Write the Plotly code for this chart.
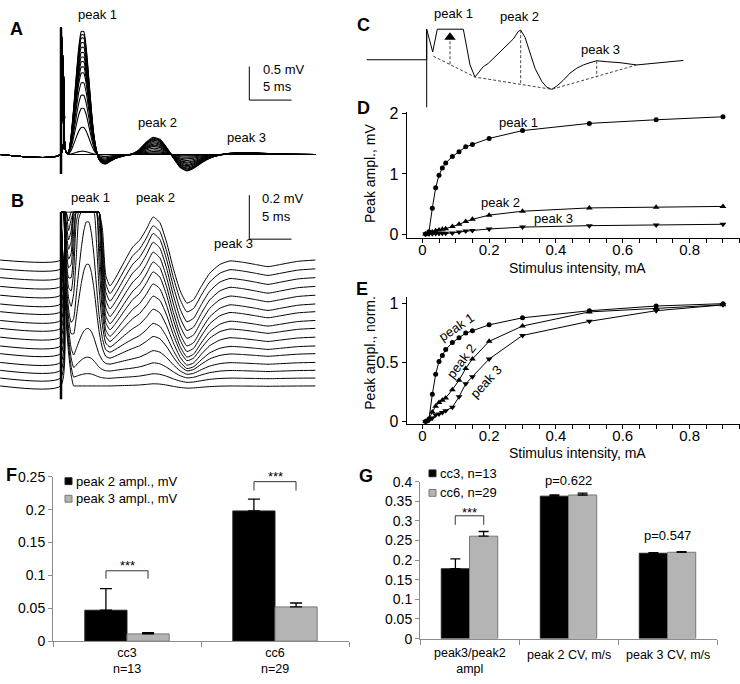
import numpy as np
import plotly.graph_objects as go

W, H = 740, 684
FONT = 'Liberation Sans, Arial, sans-serif'
BAR_GREY = '#b4b4b4'
AXIS_GREY = '#8c8c8c'

# ---------- A / B: sweep waveforms ----------
# sample times, ms after the stimulus
T_MS = [-7.2, -0.05, 0.0, 0.15, 0.3, 0.45, 0.6, 0.9, 1.2, 1.5, 1.8, 2.1, 2.4, 2.7, 3.0,
        3.3, 3.6, 3.9, 4.2, 4.5, 4.9, 5.3, 5.8, 6.5, 7.5, 8.5, 9.3, 10.1, 10.9, 11.7,
        12.5, 13.3, 14.1, 14.9, 15.7, 16.6, 17.6, 18.8, 20.0, 21.5, 23.0, 24.5, 26.0,
        28.0, 30.1]

# panel A: stimulus artefact (mV) and unit shapes of peak 1, 2, 3
A_ART = [0, 0, 1.89, 1.0, 0.45, 0.15, 0.03] + [0] * 38
A_WAVE1 = [0] * 7 + [0.02, 0.15, 0.37, 0.62, 0.85, 0.98, 0.98, 0.84, 0.6, 0.35, 0.15, 0.03,
                     -0.04, -0.07, -0.075, -0.055, -0.03, -0.01] + [0] * 20
A_WAVE2 = [0] * 25 + [0.05, 0.3, 0.72, 1.0, 0.88, 0.4, -0.2, -0.75, -0.95, -0.8, -0.5,
                      -0.22, -0.03] + [0] * 7
A_WAVE3 = [0] * 38 + [0.6, 1.0, 0.8, 0.5, 0.25, 0.05, 0]
# per-sweep amplitudes (mV), strongest stimulus first
A_AMP1 = [1.87, 1.82, 1.77, 1.70, 1.63, 1.55, 1.48, 1.41, 1.33, 1.24, 1.09, 0.90, 0.70, 0.41, 0.05, 0.0]
A_AMP2 = [0.257, 0.243, 0.228, 0.214, 0.194, 0.175, 0.155, 0.136, 0.117, 0.092, 0.068, 0.044,
          0.024, 0.01, 0.0, 0.0]
A_AMP3 = [0.03, 0.03, 0.028, 0.026, 0.024, 0.022, 0.02, 0.018, 0.015, 0.012, 0.01, 0.007,
          0.004, 0.002, 0.0, 0.0]

# panel B: same sweeps at higher gain, stacked (bottom sweep first)
B_ART = [0, 0, 3.0, 1.6, 0.9, 0.5, 0.3, 0.15, 0.05] + [0] * 36
B_WAVE1 = [0] * 7 + [0.03, 0.1, 0.22, 0.4, 0.6, 0.78, 0.92, 0.99, 0.99, 0.9, 0.72, 0.48,
                     0.25, 0.06, -0.03, -0.05, -0.04, -0.02] + [0] * 20
B_WAVE2 = [0] * 23 + [0.08, 0.2, 0.3, 0.45, 0.7, 0.98, 0.85, 0.4, -0.2, -0.7, -0.98, -0.9,
                      -0.6, -0.3, -0.1, -0.02, -0.05, -0.1, -0.15, -0.1, -0.03, 0]
B_OFFSET = [0, 0.036, 0.071, 0.107, 0.147, 0.182, 0.222, 0.262, 0.298, 0.338, 0.373, 0.413,
            0.453, 0.493, 0.533, 0.573]
B_AMP1 = [0.0, 0.02, 0.06, 0.155, 0.41, 0.57, 0.9, 1.2, 1.45, 1.65, 1.8, 1.95, 2.05, 2.15, 2.25, 2.35]
B_AMP2 = [0.01, 0.02, 0.035, 0.055, 0.08, 0.105, 0.13, 0.15, 0.17, 0.185, 0.195, 0.2, 0.205,
          0.205, 0.2, 0.2]
B_CLIP = 0.791

# panel C: schematic sweep (arbitrary units)
C_X = [-58.3, 1.7, 1.7, 7.7, 12.3, 38.3, 41.7, 45, 50, 51.7, 58.3, 63.3, 68.3, 75, 81.7, 88.3,
       93.3, 95.7, 100, 105, 110, 116.7, 121.7, 126.7, 131.7, 138.3, 145, 151.7, 158.3, 165,
       171.7, 181.7, 195, 211.7, 228.3, 241.7, 258.3]
C_Y = [0, 0, 31.3, 8, 31.3, 31.3, 13, -5.3, -17.7, -15.3, -7, -3.7, 1.3, 8, 14.7, 21.3, 29,
       30.3, 23, 6.3, -8.7, -22, -28, -30.3, -27, -21, -13.7, -8.7, -5.3, -3, -1, -2, -3, -5.3,
       -3.7, -2.3, -0.7]
C_BASE_X = [8.3, 50, 126.7, 211.7]
C_BASE_Y = [3.7, -17.7, -30.3, -5.3]

# ---------- D / E: input-output curves ----------
STIM = [0.01, 0.02, 0.03, 0.04, 0.05, 0.06, 0.07, 0.09, 0.11, 0.13, 0.15, 0.2, 0.3, 0.5, 0.7, 0.9]
D_PEAK1 = [0.0, 0.04, 0.43, 0.77, 0.98, 1.10, 1.18, 1.29, 1.37, 1.45, 1.49, 1.59, 1.72, 1.84, 1.90, 1.95]
D_PEAK2 = [0.0, 0.01, 0.035, 0.055, 0.07, 0.08, 0.09, 0.125, 0.165, 0.21, 0.245, 0.315, 0.38,
           0.435, 0.445, 0.46]
D_PEAK3 = [0.0, 0.002, 0.005, 0.008, 0.01, 0.012, 0.013, 0.018, 0.033, 0.05, 0.06, 0.085,
           0.116, 0.14, 0.15, 0.163]
E_PEAK1 = [0.0, 0.02, 0.23, 0.40, 0.51, 0.56, 0.61, 0.67, 0.71, 0.75, 0.77, 0.82, 0.88, 0.94, 0.98, 1.0]
E_PEAK2 = [0.0, 0.02, 0.08, 0.13, 0.16, 0.18, 0.2, 0.27, 0.35, 0.45, 0.53, 0.68, 0.81, 0.93, 0.96, 0.99]
E_PEAK3 = [0.0, 0.01, 0.03, 0.055, 0.063, 0.077, 0.09, 0.12, 0.21, 0.32, 0.38, 0.53, 0.73, 0.85,
           0.94, 0.99]

# ---------- F / G: group summaries ----------
F_GROUPS = ['cc3', 'cc6']
F_N = ['n=13', 'n=29']
F_PEAK2 = [0.047, 0.198]
F_PEAK2_ERR = [0.033, 0.018]
F_PEAK3 = [0.011, 0.052]
F_PEAK3_ERR = [0.002, 0.006]

G_CATS = ['peak3/peak2<br>ampl', 'peak 2 CV, m/s', 'peak 3 CV, m/s']
G_CC3 = [0.178, 0.363, 0.2175]
G_CC3_ERR = [0.025, 0.003, 0.0015]
G_CC6 = [0.261, 0.366, 0.22]
G_CC6_ERR = [0.012, 0.005, 0.0015]


def dom_x(a, b):
    return [a / W, b / W]


def dom_y(a, b):
    return [1 - b / H, 1 - a / H]


fig = go.Figure()


def label(text, x, y, size=13, xref='paper', **kw):
    kw.setdefault('xanchor', 'center')
    kw.setdefault('yanchor', 'middle')
    fig.add_annotation(text=text, x=x if xref != 'paper' else x / W, y=1 - y / H,
                       xref=xref, yref='paper', showarrow=False,
                       font=dict(size=size, color='black', family=FONT), **kw)


line_k = dict(color='black', width=1)
t = np.array(T_MS)

# --- A
for k in range(len(A_AMP1)):
    y = (np.array(A_ART) + A_AMP1[k] * np.array(A_WAVE1) + A_AMP2[k] * np.array(A_WAVE2)
         + A_AMP3[k] * np.array(A_WAVE3))
    fig.add_trace(go.Scatter(x=t, y=y, mode='lines', line=dict(color='black', width=1.1, shape='spline', smoothing=0.5),
                             xaxis='x', yaxis='y', hoverinfo='skip'))
fig.add_trace(go.Scatter(x=[0, 0], y=[-0.29, 1.89], mode='lines', line=dict(color='black', width=2.5),
                         xaxis='x', yaxis='y', hoverinfo='skip'))

# --- B
for k in range(len(B_OFFSET)):
    y = (B_OFFSET[k] + np.array(B_ART) + B_AMP1[k] * np.array(B_WAVE1)
         + B_AMP2[k] * np.array(B_WAVE2))
    y = np.minimum(y, B_CLIP)
    fig.add_trace(go.Scatter(x=t, y=y, mode='lines', line=dict(color='black', width=1, shape='spline', smoothing=0.5),
                             xaxis='x2', yaxis='y2', hoverinfo='skip'))
fig.add_trace(go.Scatter(x=[0, 0], y=[-0.06, B_CLIP], mode='lines', line=dict(color='black', width=2.5),
                         xaxis='x2', yaxis='y2', hoverinfo='skip'))

# --- C
dash_k = dict(color='#444', width=1, dash='3px,2px')
fig.add_trace(go.Scatter(x=C_X, y=C_Y, mode='lines', line=line_k, xaxis='x3', yaxis='y3'))
fig.add_trace(go.Scatter(x=[1.7, 1.7], y=[31.3, -48.7], mode='lines', line=line_k, xaxis='x3', yaxis='y3'))
fig.add_trace(go.Scatter(x=C_BASE_X, y=C_BASE_Y, mode='lines', line=dash_k, xaxis='x3', yaxis='y3'))
fig.add_trace(go.Scatter(x=[95.7, 95.7], y=[30.3, -25.5], mode='lines', line=dash_k, xaxis='x3', yaxis='y3'))
fig.add_trace(go.Scatter(x=[171.7, 171.7], y=[-1, -18], mode='lines', line=dash_k, xaxis='x3', yaxis='y3'))
fig.add_trace(go.Scatter(x=[25, 25], y=[-4.6, 20], mode='lines', line=dash_k, xaxis='x3', yaxis='y3'))
fig.add_trace(go.Scatter(x=[25], y=[23], mode='markers', marker=dict(symbol='triangle-up', size=10, color='black'),
                         xaxis='x3', yaxis='y3'))

# --- D / E
for ax, series in (('4', (D_PEAK1, D_PEAK2, D_PEAK3)), ('5', (E_PEAK1, E_PEAK2, E_PEAK3))):
    for vals, sym, sz in zip(series, ('circle', 'triangle-up', 'triangle-down'), (5, 6, 6)):
        fig.add_trace(go.Scatter(x=STIM, y=vals, mode='lines+markers', line=line_k,
                                 marker=dict(symbol=sym, size=sz, color='black'),
                                 xaxis='x' + ax, yaxis='y' + ax))

# --- F
fig.add_trace(go.Bar(x=[0, 1], y=F_PEAK2, name='peak 2 ampl., mV', xaxis='x6', yaxis='y6',
                     marker=dict(color='black', line=dict(color='#222', width=1)),
                     error_y=dict(type='data', array=F_PEAK2_ERR, arrayminus=[0, 0], symmetric=False,
                                  color='black', thickness=1.3, width=6)))
fig.add_trace(go.Bar(x=[0, 1], y=F_PEAK3, name='peak 3 ampl., mV', xaxis='x6', yaxis='y6',
                     marker=dict(color=BAR_GREY, line=dict(color='#777', width=1)),
                     error_y=dict(type='data', array=F_PEAK3_ERR, arrayminus=[0, 0], symmetric=False,
                                  color='black', thickness=1.3, width=6)))

# --- G
gx = list(range(len(G_CATS)))
fig.add_trace(go.Bar(x=gx, y=G_CC3, name='cc3, n=13', xaxis='x7', yaxis='y7',
                     marker=dict(color='black', line=dict(color='#222', width=1)),
                     error_y=dict(type='data', array=G_CC3_ERR, arrayminus=[0, 0, 0], symmetric=False,
                                  color='black', thickness=1.3, width=5)))
fig.add_trace(go.Bar(x=gx, y=G_CC6, name='cc6, n=29', xaxis='x7', yaxis='y7',
                     marker=dict(color=BAR_GREY, line=dict(color='#777', width=1)),
                     error_y=dict(type='data', array=G_CC6_ERR, arrayminus=[0, 0, 0], symmetric=False,
                                  color='black', thickness=1.3, width=5)))

hidden = dict(visible=False, fixedrange=True)
io_x = dict(range=[-0.0467, 0.951], showline=True, linecolor='black', linewidth=1,
            ticks='outside', ticklen=4, tickcolor='black', tick0=0, dtick=0.2,
            minor=dict(dtick=0.05, tick0=0, ticks='outside', ticklen=4, tickcolor='black'),
            showgrid=False, zeroline=False, tickfont=dict(size=15), ticklabelstandoff=-6)
io_y = dict(showline=True, linecolor='black', linewidth=1, ticks='outside', ticklen=4,
            tickcolor='black', showgrid=False, zeroline=False, tickfont=dict(size=16))
bar_y = dict(showline=True, linecolor=AXIS_GREY, linewidth=1, ticks='outside', ticklen=4,
             tickcolor=AXIS_GREY, showgrid=False, zeroline=False, tickfont=dict(size=14))
bar_x = dict(showline=True, linecolor=AXIS_GREY, linewidth=1, ticks='outside', ticklen=5,
             tickcolor=AXIS_GREY, showticklabels=False, showgrid=False, zeroline=False)

fig.update_layout(
    width=W, height=684, margin=dict(l=0, r=0, t=0, b=0),
    paper_bgcolor='white', plot_bgcolor='white', showlegend=False,
    font=dict(family=FONT, size=13, color='black'),
    barmode='group', bargap=0.43, bargroupgap=0,
    xaxis=dict(domain=dom_x(0, 320), range=[-61 / 8.45, 259 / 8.45], **hidden),
    yaxis=dict(domain=dom_y(14, 176), range=[(150 - 176) / 68.7, (150 - 14) / 68.7], **hidden),
    xaxis2=dict(domain=dom_x(0, 320), range=[-61 / 8.45, 259 / 8.45], **hidden),
    yaxis2=dict(domain=dom_y(188, 404), range=[(387 - 404) / 225, (387 - 188) / 225], **hidden),
    xaxis3=dict(domain=dom_x(365, 690), range=[-60, 265], **hidden),
    yaxis3=dict(domain=dom_y(0, 106), range=[-53, 53], **hidden),
    xaxis4=dict(domain=dom_x(406.7, 740), anchor='y4', **io_x),
    yaxis4=dict(domain=dom_y(107, 236), range=[-0.073, 2.021], anchor='x4', dtick=1, **io_y),
    xaxis5=dict(domain=dom_x(406.7, 740), anchor='y5', **io_x),
    yaxis5=dict(domain=dom_y(296, 426), range=[-0.022, 1.056], anchor='x5', dtick=0.5, **io_y),
    xaxis6=dict(domain=dom_x(53, 349), range=[-0.5, 1.5], anchor='y6', tickvals=[-0.5, 0.5, 1.5], **bar_x),
    yaxis6=dict(domain=dom_y(480, 648.3), range=[0, 0.25], anchor='x6',
                tickvals=[0, 0.05, 0.1, 0.15, 0.2, 0.25],
                ticktext=['0', '0.05', '0.1', '0.15', '0.2', '0.25'], **bar_y),
    xaxis7=dict(domain=dom_x(420, 717), range=[-0.5, 2.5], anchor='y7',
                tickvals=[-0.5, 0.5, 1.5, 2.5], **bar_x),
    yaxis7=dict(domain=dom_y(485, 645.7), range=[0, 0.4], anchor='x7',
                tickvals=[0, 0.05, 0.1, 0.15, 0.2, 0.25, 0.3, 0.35, 0.4],
                ticktext=['0', '0.05', '0.1', '0.15', '0.2', '0.25', '0.3', '0.35', '0.4'], **bar_y),
)

# scale bars (A: 0.5 mV / 5 ms, B: 0.2 mV / 5 ms)
sb_t = (249.3 - 61) / 8.45
sb_a = (150 - 94.3) / 68.7
sb_b = (387 - 236.7) / 225
fig.add_shape(type='path', xref='x', yref='y', line=line_k,
              path=f'M{sb_t},{sb_a + 0.5} L{sb_t},{sb_a} L{sb_t + 5},{sb_a}')
fig.add_shape(type='path', xref='x2', yref='y2', line=line_k,
              path=f'M{sb_t},{sb_b + 0.2} L{sb_t},{sb_b} L{sb_t + 5},{sb_b}')

# significance brackets
br = dict(color='#333', width=1)
fig.add_shape(type='path', xref='x6', yref='y6', line=br, path='M-0.142,0.095 V0.107 H0.142 V0.095')
fig.add_shape(type='path', xref='x6', yref='y6', line=br, path='M0.858,0.229 V0.2426 H1.142 V0.229')
fig.add_shape(type='path', xref='x7', yref='y7', line=br, path='M-0.144,0.29 V0.313 H0.144 V0.29')

# panel letters
for ch, x, y in (('A', 16, 21), ('B', 17, 198), ('C', 363, 17), ('D', 363, 102),
                 ('E', 362, 288), ('F', 11, 478), ('G', 366, 479)):
    label(f'<b>{ch}</b>', x, y, size=18)

# A / B / C labels
label('peak 1', 97, 7)
label('peak 2', 157, 117)
label('peak 3', 247, 133)
label('0.5 mV', 261, 63, xanchor='left')
label('5 ms', 261, 80, xanchor='left')
label('peak 1', 90, 194)
label('peak 2', 155, 194)
label('peak 3', 233, 241)
label('0.2 mV', 260, 195, xanchor='left')
label('5 ms', 260, 213, xanchor='left')
label('peak 1', 454, 6)
label('peak 2', 519, 9)
label('peak 3', 600, 42)

# D / E labels
label('peak 1', 518, 117)
label('peak 2', 500, 199)
label('peak 3', 553, 216)
label('Stimulus intensity, mA', 577, 266, size=14)
label('Peak ampl., mV', 370, 170, size=14, textangle=-90)
label('peak 1', 456, 327, textangle=-34)
label('peak 2', 461, 362, textangle=-53)
label('peak 3', 486, 382, textangle=-47)
label('Stimulus intensity, mA', 577, 456, size=14)
label('Peak ampl., norm.', 370, 353, size=14, textangle=-90)

# F / G category labels, legends, stats
for i, (g, n) in enumerate(zip(F_GROUPS, F_N)):
    label(f'{g}<br>{n}', i, 669, size=12.5, xref='x6')
for i, txt in enumerate(G_CATS):
    label(txt, i, 669 if '<br>' in txt else 663, size=12.5, xref='x7')

for (x0, y0), fill, edge, txt in (((65, 481), 'black', '#222', 'peak 2 ampl., mV'),
                                  ((65, 499), BAR_GREY, '#777', 'peak 3 ampl., mV'),
                                  ((429, 473), 'black', '#222', 'cc3, n=13'),
                                  ((429, 493), BAR_GREY, '#777', 'cc6, n=29')):
    fig.add_shape(type='rect', xref='paper', yref='paper', x0=x0 / W, x1=(x0 + 7) / W,
                  y0=1 - (y0 + 7) / H, y1=1 - y0 / H, fillcolor=fill, line=dict(color=edge, width=1))
    label(txt, x0 + 9, y0 + 3.5, xanchor='left')

label('***', 0, 571, xref='x6')
label('***', 1, 480, xref='x6')
label('***', 0, 517, xref='x7')
label('p=0.622', 1, 484, xref='x7')
label('p=0.547', 2, 540, xref='x7')

# the page's default body margin would shift the figure by 8 px
fig.write_html('out.html', config={'displayModeBar': False},
               post_script="document.body.style.margin = '0';")
